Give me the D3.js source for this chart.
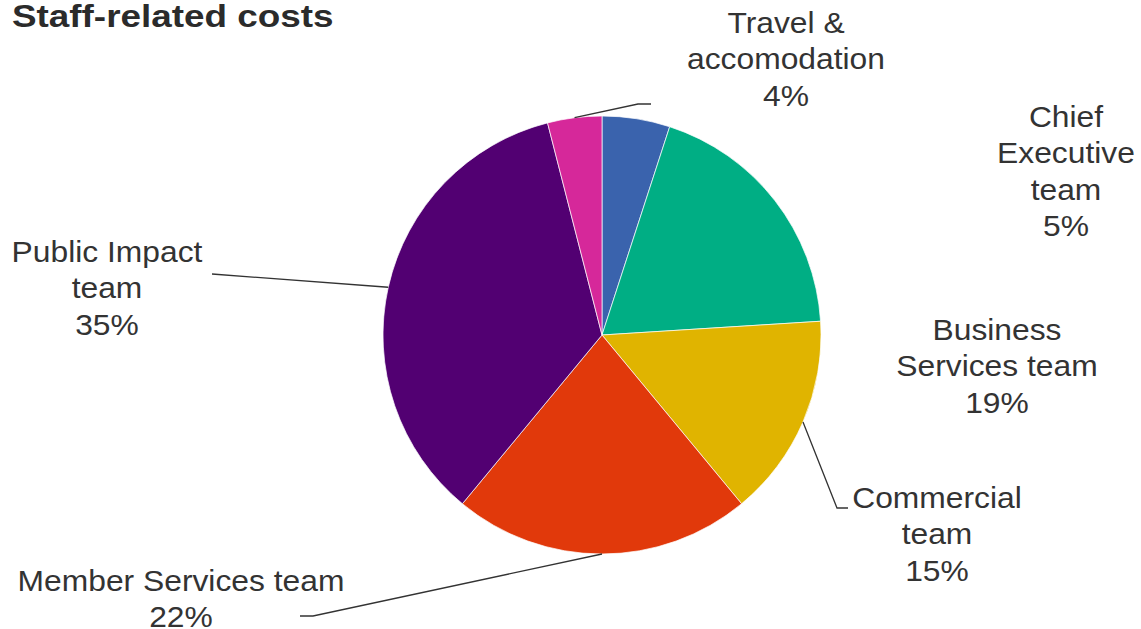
<!DOCTYPE html>
<html><head><meta charset="utf-8">
<script src="https://cdn.jsdelivr.net/npm/d3@7"></script>
<style>body{margin:0;background:#fff;}svg{display:block;}</style>
</head><body>
<svg id="c" width="1141" height="629"></svg>
<script>
const categories = ["Chief Executive team","Business Services team","Commercial team","Member Services team","Public Impact team","Travel & accomodation"];
const values = [5,19,15,22,35,4];
const colors = ["#3a63ad","#00ae84","#e0b400","#e1390b","#520072","#d6289a"];
const labelLines = [["Chief","Executive","team"],["Business","Services team"],["Commercial","team"],["Member Services team"],["Public Impact","team"],["Travel &","accomodation"]];

// layout (not data)
const W=1141,H=629,cx=602,cy=335,R=219;
const labelPos = [
  {x:1066,y:127,lead:null},
  {x:997,y:340,lead:null},
  {x:937,y:508,lead:[[837,508],[848,508]]},
  {x:181,y:591,lead:[[313,616],[300,616]]},
  {x:107,y:262,lead:[[212,274]]},
  {x:786,y:33,lead:[[638,104],[651,104]]}
];
const lh = 36.5, sx = 1.06;

const svg=d3.select("#c");
svg.append("text").attr("transform","translate(12,27) scale(1.17,1)").attr("font-family","Liberation Sans, Arial, sans-serif")
  .attr("font-weight","bold").attr("font-size",31.5).attr("fill","#2b2b2b").text("Staff-related costs");

const pie=d3.pie().sort(null).value(d=>d)(values);
const arc=d3.arc().innerRadius(0).outerRadius(R);
const edge=d3.arc().innerRadius(R).outerRadius(R);
const g=svg.append("g").attr("transform",`translate(${cx},${cy})`);
g.selectAll("path").data(pie).join("path").attr("d",arc).attr("fill",(d,i)=>colors[i])
  .attr("stroke","#fff").attr("stroke-width",0.7);

const total=d3.sum(values);
pie.forEach((d,i)=>{
  const lp=labelPos[i];
  if(lp.lead){
    const c=edge.centroid(d);
    const pts=[[cx+c[0],cy+c[1]],...lp.lead];
    svg.append("path").attr("d",d3.line()(pts)).attr("fill","none").attr("stroke","#333").attr("stroke-width",1.3);
  }
  const lines=[...labelLines[i], Math.round(values[i]/total*100)+"%"];
  const t=svg.append("text").attr("transform",`translate(${lp.x},${lp.y}) scale(${sx},1)`)
    .attr("font-family","Liberation Sans, Arial, sans-serif").attr("font-size",30)
    .attr("fill","#333").attr("text-anchor","middle");
  lines.forEach((s,k)=>t.append("tspan").attr("x",0).attr("y",k*lh).text(s));
});
</script>
</body></html>
